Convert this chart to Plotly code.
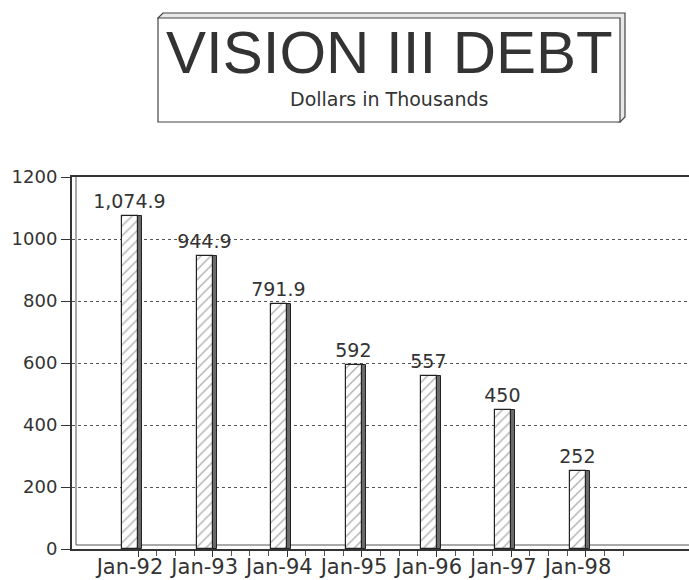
import plotly.graph_objects as go

# ---- data ----
years = [1992, 1993, 1994, 1995, 1996, 1997, 1998]
tick_labels = ["Jan-92", "Jan-93", "Jan-94", "Jan-95", "Jan-96", "Jan-97", "Jan-98"]
debt = [1074.9, 944.9, 791.9, 592, 557, 450, 252]
bar_text = [f"{v:,}" for v in debt]

title_text = "VISION III DEBT"
subtitle_text = "Dollars in Thousands"

# ---- geometry helpers (pixels -> paper) ----
W, H = 689, 580
L, R, T, B = 72, 0, 177, 31
PW, PH = W - L - R, H - T - B


def px(x):
    return (x - L) / PW


def py(y):
    return (H - B - y) / PH


FACE_W = 0.214   # bar face width in years
SIDE_W = 0.055   # 3-D side width in years

fig = go.Figure()

# bar faces (hatched), right edge on the January tick
fig.add_trace(go.Bar(
    x=years, y=debt, offset=-FACE_W, width=FACE_W,
    marker=dict(color="white",
                line=dict(color="#222", width=1.2),
                pattern=dict(shape="/", fgcolor="#555", bgcolor="white",
                             size=7, solidity=0.18)),
    text=bar_text, textposition="outside", cliponaxis=False,
    constraintext="none",
    textfont=dict(family="DejaVu Sans", size=19, color="#333"),
    showlegend=False, hoverinfo="skip",
))
# 3-D side of the bars
fig.add_trace(go.Bar(
    x=years, y=debt, offset=0, width=SIDE_W,
    marker=dict(color="#6a6a6a", line=dict(color="#222", width=1)),
    showlegend=False, hoverinfo="skip",
))

minor_vals = [y + q / 4 for y in years[:-1] for q in (1, 2, 3)] + [years[-1] + 0.25, years[-1] + 0.5]

fig.update_layout(
    width=W, height=H,
    margin=dict(l=L, r=R, t=T, b=B, autoexpand=False),
    paper_bgcolor="white", plot_bgcolor="white",
    bargap=0, barmode="overlay",
    hovermode=False,
    xaxis=dict(
        range=[1991.116, 1999.38], automargin=False,
        tickmode="array", tickvals=years, ticktext=tick_labels,
        ticks="outside", ticklen=6, tickcolor="#333", tickwidth=1,
        ticklabelshift=-8, ticklabelstandoff=-8,
        minor=dict(tickmode="array", tickvals=minor_vals, ticks="outside",
                   ticklen=5, tickcolor="#555", showgrid=False),
        showline=True, linecolor="#333", linewidth=2, mirror=True,
        showgrid=False, zeroline=False,
        tickfont=dict(family="DejaVu Sans", size=21, color="#333"),
    ),
    yaxis=dict(
        range=[0, 1200], tickmode="array", automargin=False,
        tickvals=[0, 200, 400, 600, 800, 1000, 1200],
        ticks="outside", ticklen=9, tickcolor="#333",
        showline=True, linecolor="#333", linewidth=2,
        showgrid=True, gridcolor="#555", griddash="dot", gridwidth=1,
        zeroline=False,
        tickfont=dict(family="DejaVu Sans", size=18, color="#333"),
    ),
)

# ---- 3-D wall / floor edges of the plot frame ----
fig.add_shape(type="line", xref="paper", yref="paper",
              x0=px(76), x1=px(76), y0=py(545), y1=1,
              line=dict(color="#555", width=1), layer="below")
fig.add_shape(type="line", xref="paper", yref="paper",
              x0=px(76), x1=1, y0=py(545), y1=py(545),
              line=dict(color="#555", width=1), layer="below")

# ---- title box (3-D) ----
fig.add_shape(type="path", xref="paper", yref="paper",
              path=(f"M {px(158)},{py(18)} L {px(163)},{py(13)} L {px(625)},{py(13)} "
                    f"L {px(625)},{py(117)} L {px(620)},{py(122)} Z"),
              line=dict(color="#444", width=1.2), fillcolor="#e8e8e8")
fig.add_shape(type="rect", xref="paper", yref="paper",
              x0=px(158), x1=px(620), y0=py(122), y1=py(18),
              line=dict(color="#444", width=1.2), fillcolor="white")

fig.add_annotation(text=title_text, xref="paper", yref="paper",
                   x=px(389), y=py(52), showarrow=False,
                   xanchor="center", yanchor="middle",
                   font=dict(family="Liberation Sans", size=60, color="#333"))
fig.add_annotation(text=subtitle_text, xref="paper", yref="paper",
                   x=px(389), y=py(99), showarrow=False,
                   xanchor="center", yanchor="middle",
                   font=dict(family="DejaVu Sans", size=19, color="#333"))

fig.write_html("out.html", config={"displayModeBar": False},
               post_script="document.body.style.margin='0';")
